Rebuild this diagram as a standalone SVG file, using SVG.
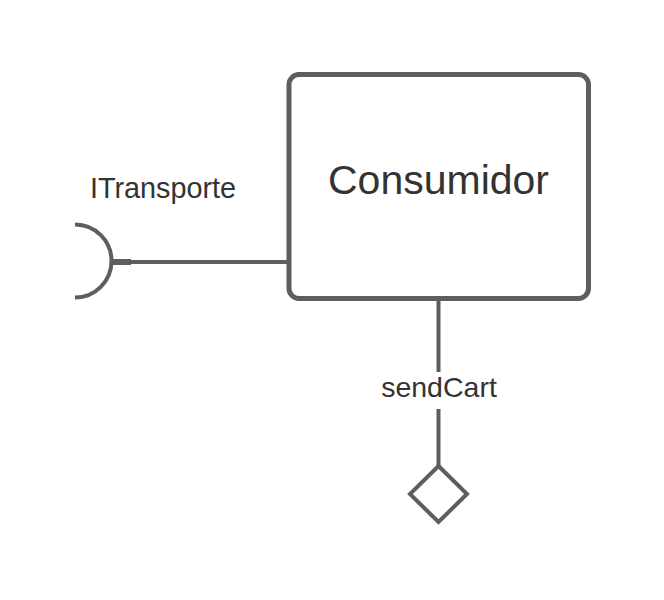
<svg xmlns="http://www.w3.org/2000/svg" width="664" height="600" viewBox="0 0 664 600">
<style>
.s{fill:none;stroke:#5e5e5e;stroke-width:4}
.t{font-family:"Liberation Sans",Arial,sans-serif;fill:#333333}
</style>
<rect width="664" height="600" fill="#ffffff"/>
<g id="connectors">
<line class="s" x1="113" y1="262" x2="289" y2="262"/>
<rect x="113" y="259" width="18" height="6" fill="#5e5e5e"/>
<line class="s" x1="438.5" y1="299" x2="438.5" y2="372"/>
<line class="s" x1="438.5" y1="409" x2="438.5" y2="466"/>
</g>
<g id="consumidor">
<rect x="289" y="74.5" width="299.5" height="224" rx="10" ry="10" fill="#ffffff" stroke="#5e5e5e" stroke-width="5"/>
<text class="t" x="438.5" y="194" font-size="41" text-anchor="middle">Consumidor</text>
</g>
<g id="itransporte">
<path class="s" stroke-width="5" d="M75,224.5 A36.5,36.5 0 0 1 75,297.5"/>
<text class="t" x="163" y="198" font-size="28.8" text-anchor="middle">ITransporte</text>
</g>
<g id="sendcart">
<text class="t" x="439" y="397" font-size="28.5" text-anchor="middle">sendCart</text>
<polygon class="s" fill="#ffffff" points="438.5,466 467,494 438.5,522 410,494"/>
</g>
</svg>
